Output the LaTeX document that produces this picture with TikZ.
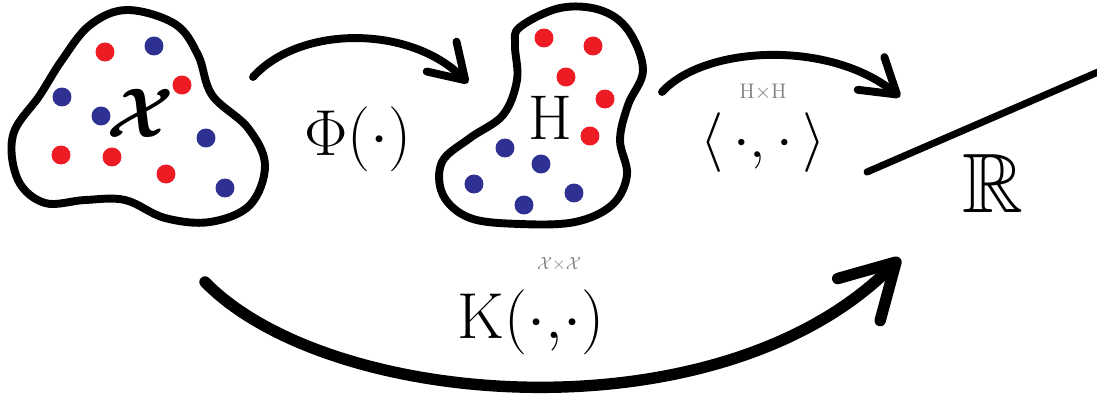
\documentclass[tikz,border=0pt]{standalone}
\usepackage{fix-cm}
\usepackage{amsmath, amssymb}
\usetikzlibrary{arrows.meta}
\definecolor{ptred}{RGB}{237, 28, 36}
\definecolor{ptblue}{RGB}{46, 49, 146}

\begin{document}
\begin{tikzpicture}[
    x=0.02cm, y=-0.02cm,
    blob/.style={line width=4.5pt, line join=round},
    maparrow/.style={line width=4.5pt, line cap=round, -{Straight Barb[length=19pt, width=24pt, round]}},
    biglabel/.style={inner sep=0pt, font=\fontsize{37}{40}\selectfont},
    smalllabel/.style={inner sep=0pt, text=gray, font=\fontsize{12}{14}\selectfont}
  ]
  \useasboundingbox (0,0) rectangle (1097,400);

  % input space
  \draw[blob] plot[smooth cycle, tension=0.6] coordinates {(127,10) (175,24) (198,55) (212,95) (248,128) (265,165) (250,205) (210,222) (165,218) (125,200) (85,200) (45,203) (18,180) (13,135) (40,95) (62,60) (90,25)};
  \foreach \x/\y in {105/52, 182/85, 61/155, 112/157, 166/174}
    \fill[ptred] (\x,\y) circle[radius=5.4pt];
  \foreach \x/\y in {154/46, 62/97, 101/116, 206/138, 225/188}
    \fill[ptblue] (\x,\y) circle[radius=5.4pt];
  \node[biglabel, font=\fontsize{40}{44}\selectfont] (xset) at (140,113) {$\boldsymbol{\mathcal{X}}$};

  % feature space
  \draw[blob] plot[smooth cycle, tension=0.6] coordinates {(520,27) (560,8) (600,10) (628,30) (643,70) (628,105) (620,140) (627,175) (612,205) (575,222) (520,224) (470,218) (443,195) (442,162) (470,138) (503,115) (517,80) (515,45)};
  \foreach \x/\y in {544/38, 593/46, 566/77, 605/99, 590/136}
    \fill[ptred] (\x,\y) circle[radius=5.4pt];
  \foreach \x/\y in {505/148, 541/164, 474/184, 574/193, 524/205}
    \fill[ptblue] (\x,\y) circle[radius=5.4pt];
  \node[biglabel, font=\fontsize{36}{40}\selectfont] (hset) at (550,118) {H};

  % real line
  \coordinate (line-lo) at (867,172);
  \coordinate (line-hi) at (1105,69);
  \draw[line width=4pt, line cap=round] (line-lo) -- (line-hi);
  \node[biglabel, font=\fontsize{48}{52}\selectfont] (reals) at (993,183) {$\mathbb{R}$};

  % maps
  \node[biglabel] (phi) at (358,139) {$\Phi(\cdot)$};
  \node[biglabel, font=\fontsize{34}{36}\selectfont] (inner) at (763,143) {$\langle\,\cdot{,}\,\cdot\,\rangle$};
  \node[smalllabel] (hdom) at (763,92) {H$\times$H};
  \node[biglabel] (kern) at (531,322) {$\mathrm{K}(\cdot{,}\cdot)$};
  \node[smalllabel, font=\fontsize{10}{12}\selectfont] (kdom) at (559,264) {$\mathcal{X}{\times}\mathcal{X}$};

  \coordinate (phi-in) at (253,77);
  \coordinate (phi-out) at (468,83);
  \coordinate (inner-in) at (662,92);
  \coordinate (inner-out) at (900,97);
  \coordinate (kern-in) at (205,282);
  \coordinate (kern-out) at (900,258);

  \draw[maparrow] (phi-in) .. controls (300,25) and (410,25) .. (phi-out);
  \draw[maparrow] (inner-in) .. controls (705,45) and (830,40) .. (inner-out);
  \draw[maparrow, line width=6.5pt, -{Straight Barb[length=30pt, width=34pt, round]}] (kern-in) .. controls (330,410) and (720,440) .. (kern-out);
\end{tikzpicture}
\end{document}
